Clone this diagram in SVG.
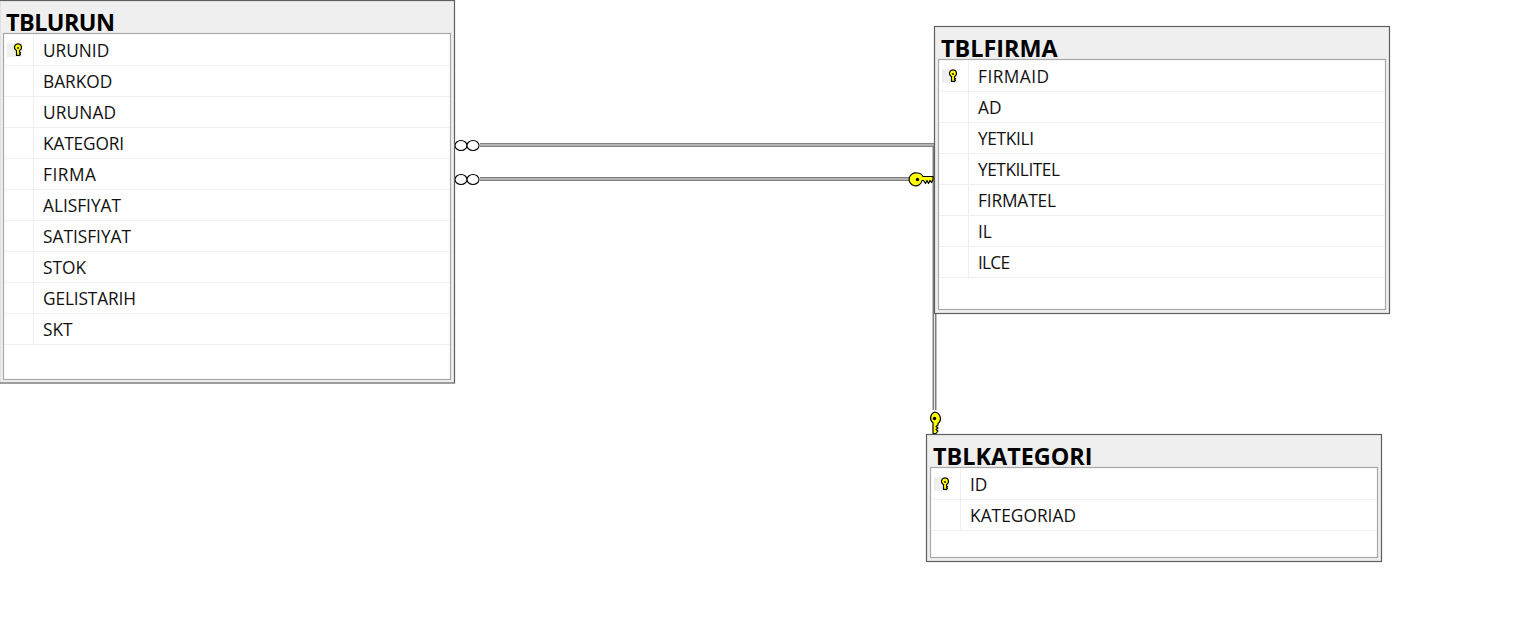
<svg xmlns="http://www.w3.org/2000/svg" width="1517" height="642" viewBox="0 0 1517 642">
<style>
.outer{fill:#efefef;stroke:#5f5f5f;stroke-width:1.2}
.inner{fill:#fff;stroke:#a8a8a8;stroke-width:1.2}
.sep{stroke:#efefef;stroke-width:1;fill:none}
.title{font:700 23.4px "Open Sans","Noto Sans",sans-serif;fill:#000}
.col{font:400 17.3px "Open Sans","Noto Sans",sans-serif;fill:#111}
.wire{fill:none;stroke:#808080;stroke-width:4}
.wirec{fill:none;stroke:#e6e6e6;stroke-width:1}
.ring{fill:#fff;stroke:#000;stroke-width:1.1}
.key{fill:#ffff00;stroke:#000;stroke-width:1.2;stroke-linejoin:round}
.pk{fill:#efefef}
</style>
<defs>
<g id="k"><path class="key" d="M-1.500 -0.500a3.500 3.500 0 1 1 3 0v1.500l1 .8-1 .8 1 .8-1 1h-3z"/><circle cx="0" cy="-3" r="0.900" fill="#000"/></g>
</defs>
<g id="connectors">
<path class="wire" d="M480 145H934.500M480 179H912M934.500 145V410"/>
<path class="wirec" d="M480 145H934.500M480 179H912M934.500 145V410"/>
<ellipse class="ring" cx="461" cy="145.500" rx="6" ry="5"/><ellipse class="ring" cx="473" cy="145.500" rx="6" ry="5"/>
<ellipse class="ring" cx="461" cy="179.500" rx="6" ry="5"/><ellipse class="ring" cx="473" cy="179.500" rx="6" ry="5"/>
<path class="key" d="M917.500 173a6.500 6.500 0 0 1 5.500 3.500h10v3l-1.500 3-1.500-2-1.500 3-1.500-3-1.500 3-2-3h-1.500a6.500 6.500 0 1 1-5-7.500z"/>
<circle cx="917.500" cy="179.500" r="1.700" fill="#000"/>
<path class="key" d="M934.500 412a6.500 6.500 0 0 1 3.500 11.500v1.500l-2 1.500 2 1.500-2 1.500 2 1.500-2 2.500h-3v-10.500a6.500 6.500 0 0 1 1.500-11z"/>
<circle cx="934.500" cy="418.500" r="1.700" fill="#000"/>
</g>
<g id="TBLURUN">
<rect class="outer" x="-0.500" y="0.500" width="455" height="382.500"/>
<text class="title" x="6" y="30.500" textLength="109">TBLURUN</text>
<rect class="inner" x="3.500" y="33.500" width="447" height="346"/>
<path class="sep" d="M4 65.500H450M4 96.500H450M4 127.500H450M4 158.500H450M4 189.500H450M4 220.500H450M4 251.500H450M4 282.500H450M4 313.500H450M4 344.500H450M33.500 35V345"/>
<rect class="pk" x="7" y="43" width="15" height="14"/>
<use href="#k" x="18" y="51"/>
<text class="col" x="43" y="56.500">URUNID</text>
<text class="col" x="43" y="87.500">BARKOD</text>
<text class="col" x="43" y="118.500" textLength="73">URUNAD</text>
<text class="col" x="43" y="149.500" textLength="81">KATEGORI</text>
<text class="col" x="43" y="180.500" textLength="53">FIRMA</text>
<text class="col" x="43" y="211.500" textLength="78">ALISFIYAT</text>
<text class="col" x="43" y="242.500" textLength="88">SATISFIYAT</text>
<text class="col" x="43" y="273.500" textLength="43">STOK</text>
<text class="col" x="43" y="304.500" textLength="93">GELISTARIH</text>
<text class="col" x="43" y="335.500">SKT</text>
</g>
<g id="TBLFIRMA" transform="translate(935,26)">
<rect class="outer" x="-0.500" y="0.500" width="455" height="287"/>
<text class="title" x="6" y="30.500">TBLFIRMA</text>
<rect class="inner" x="3.500" y="33.500" width="447" height="250"/>
<path class="sep" d="M4 65.500H450M4 96.500H450M4 127.500H450M4 158.500H450M4 189.500H450M4 220.500H450M4 251.500H450M33.500 35V252"/>
<rect class="pk" x="7" y="43" width="15" height="14"/>
<use href="#k" x="18" y="51"/>
<text class="col" x="43" y="56.500" textLength="71">FIRMAID</text>
<text class="col" x="43" y="87.500">AD</text>
<text class="col" x="43" y="118.500" textLength="56">YETKILI</text>
<text class="col" x="43" y="149.500" textLength="82">YETKILITEL</text>
<text class="col" x="43" y="180.500" textLength="78">FIRMATEL</text>
<text class="col" x="43" y="211.500">IL</text>
<text class="col" x="43" y="242.500" textLength="32">ILCE</text>
</g>
<g id="TBLKATEGORI" transform="translate(927,434)">
<rect class="outer" x="-0.500" y="0.500" width="455" height="127"/>
<text class="title" x="6" y="30.500">TBLKATEGORI</text>
<rect class="inner" x="3.500" y="33.500" width="447" height="90"/>
<path class="sep" d="M4 65.500H450M4 96.500H450M33.500 35V97"/>
<rect class="pk" x="7" y="43" width="15" height="14"/>
<use href="#k" x="18" y="51"/>
<text class="col" x="43" y="56.500">ID</text>
<text class="col" x="43" y="87.500" textLength="106">KATEGORIAD</text>
</g>
</svg>
